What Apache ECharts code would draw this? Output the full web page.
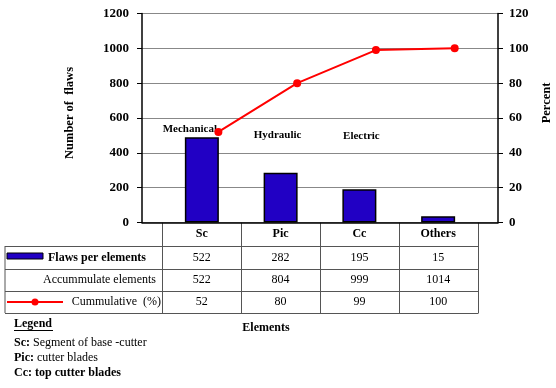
<!DOCTYPE html>
<html>
<head>
<meta charset="utf-8">
<script src="https://cdn.jsdelivr.net/npm/echarts@6/dist/echarts.min.js"></script>
<style>
  html, body { margin: 0; padding: 0; background: #fff; }
  #main { width: 556px; height: 388px; }
</style>
</head>
<body>
<div id="main"></div>
<script>
// data
const categories = ["Sc", "Pic", "Cc", "Others"];
const barHeights = [490, 285, 191, 36];        // bar tops as drawn
const flawsPerElement = [522, 282, 195, 15];   // table row 1
const accumulated = [522, 804, 999, 1014];     // table row 2
const cumulativePct = [52, 80, 99, 100];       // table row 3 + line
const groups = ["Mechanical", "Hydraulic", "Electric"];
const leftTicks = [0, 200, 400, 600, 800, 1000, 1200];
const rightTicks = [0, 20, 40, 60, 80, 100, 120];

const FONT = "Liberation Serif";
const BLUE = "#2100c4";

var chart = echarts.init(document.getElementById("main"));

chart.setOption({
  animation: false,
  grid: { left: 142, right: 58, top: 13.5, bottom: 165.5 },
  xAxis: {
    type: "value",
    min: -0.76,
    max: 3.76,
    axisLine: { show: true, onZero: false, lineStyle: { color: "#000", width: 1.5 } },
    axisTick: { show: false },
    axisLabel: { show: false },
    splitLine: { show: false }
  },
  yAxis: [
    {
      type: "value",
      min: leftTicks[0],
      max: leftTicks[leftTicks.length - 1],
      interval: 200,
      axisLine: { show: true, onZero: false, lineStyle: { color: "#000", width: 1.5 } },
      axisTick: { show: true, inside: false, length: 5, lineStyle: { color: "#000" } },
      axisLabel: {
        margin: 13, fontFamily: FONT, fontWeight: "bold", fontSize: 13, color: "#000",
        formatter: v => String(v)
      },
      splitLine: { show: true, lineStyle: { color: "#888", width: 1 } }
    },
    {
      type: "value",
      min: rightTicks[0],
      max: rightTicks[rightTicks.length - 1],
      interval: 20,
      position: "right",
      axisLine: { show: true, onZero: false, lineStyle: { color: "#000", width: 1.5 } },
      axisTick: { show: true, inside: false, length: 5, lineStyle: { color: "#000" } },
      axisLabel: {
        margin: 11, fontFamily: FONT, fontWeight: "bold", fontSize: 13, color: "#000",
        formatter: v => String(v)
      },
      splitLine: { show: false }
    }
  ],
  series: [
    {
      type: "bar",
      yAxisIndex: 0,
      barWidth: 34,
      data: barHeights.map((v, i) => [i, v]),
      itemStyle: { color: BLUE, borderColor: "#000", borderWidth: 1.5 }
    },
    {
      type: "line",
      yAxisIndex: 1,
      data: cumulativePct.map((v, i) => [i + 0.21, v]),
      symbol: "circle",
      symbolSize: 8,
      lineStyle: { color: "#ff0000", width: 2 },
      itemStyle: { color: "#ff0000" },
      z: 5
    }
  ]
});

// table under the chart, aligned with the axis
function px(x) {
  return chart.convertToPixel({ xAxisIndex: 0 }, x);
}

var axisY = 222.5;
var rowY = [246, 269, 291, 313];
var tableLeft = 5;
var bounds = [];
for (var b = 0; b <= categories.length; b++) bounds.push(Math.round(px(b - 0.5)) + 0.5);
var tableRight = bounds[bounds.length - 1];
var lineStyle = { stroke: "#555", lineWidth: 1 };
var g = [];

bounds.forEach(function (x) {
  g.push({ type: "line", shape: { x1: x, y1: axisY, x2: x, y2: rowY[3] }, style: lineStyle });
});
g.push({ type: "line", shape: { x1: tableLeft, y1: rowY[0], x2: tableLeft, y2: rowY[3] }, style: lineStyle });
rowY.forEach(function (y) {
  g.push({ type: "line", shape: { x1: tableLeft, y1: y + 0.5, x2: tableRight, y2: y + 0.5 }, style: lineStyle });
});

function txt(text, x, y, opts) {
  return {
    type: "text",
    x: x, y: y,
    style: Object.assign({
      text: text,
      font: (opts && opts.bold ? "bold " : "") + "12px '" + FONT + "'",
      fill: "#000",
      align: "center",
      verticalAlign: "middle"
    }, opts && opts.style)
  };
}

var rows = [flawsPerElement, accumulated, cumulativePct];
categories.forEach(function (c, i) {
  var cx = px(i);
  g.push(txt(c, cx, (axisY + rowY[0]) / 2, { bold: true }));
  rows.forEach(function (r, k) {
    g.push(txt(String(r[i]), cx, (rowY[k] + rowY[k + 1]) / 2));
  });
});

// row headers
g.push({ type: "rect", shape: { x: 7, y: 253, width: 36, height: 6 }, style: { fill: BLUE, stroke: "#000", lineWidth: 1 } });
g.push(txt("Flaws per elements", 146, (rowY[0] + rowY[1]) / 2, { bold: true, style: { align: "right" } }));
g.push(txt("Accummulate elements", 156, (rowY[1] + rowY[2]) / 2, { style: { align: "right" } }));
g.push({ type: "line", shape: { x1: 7, y1: 302, x2: 63, y2: 302 }, style: { stroke: "#ff0000", lineWidth: 2 } });
g.push({ type: "circle", shape: { cx: 35, cy: 302, r: 3.5 }, style: { fill: "#ff0000" } });
g.push(txt("Cummulative  (%)", 161, (rowY[2] + rowY[3]) / 2, { style: { align: "right" } }));

// group labels over the bars
var groupShift = [-12, -3, 2];
var groupY = [129, 135, 136];
groups.forEach(function (name, i) {
  g.push(txt(name, px(i) + groupShift[i], groupY[i], { style: { font: "bold 11px '" + FONT + "'" } }));
});

// axis titles
g.push({
  type: "text", x: 70, y: 113, rotation: Math.PI / 2,
  style: { text: "Number of  flaws", font: "bold 12.5px '" + FONT + "'", fill: "#000", align: "center", verticalAlign: "middle" }
});
g.push({
  type: "text", x: 547, y: 103, rotation: Math.PI / 2,
  style: { text: "Percent", font: "bold 12.5px '" + FONT + "'", fill: "#000", align: "center", verticalAlign: "middle" }
});
g.push(txt("Elements", 266, 328, { bold: true }));

// legend notes
g.push(txt("Legend", 14, 324, { bold: true, style: { align: "left" } }));
g.push({ type: "line", shape: { x1: 14, y1: 330.5, x2: 53, y2: 330.5 }, style: { stroke: "#000", lineWidth: 1 } });
g.push({
  type: "text", x: 14, y: 343,
  style: {
    text: "{b|Sc:} Segment of base -cutter",
    rich: { b: { fontWeight: "bold", fontFamily: FONT, fontSize: 12 } },
    fontFamily: FONT, fontSize: 12, fill: "#000", verticalAlign: "middle"
  }
});
g.push({
  type: "text", x: 14, y: 358,
  style: {
    text: "{b|Pic:} cutter blades",
    rich: { b: { fontWeight: "bold", fontFamily: FONT, fontSize: 12 } },
    fontFamily: FONT, fontSize: 12, fill: "#000", verticalAlign: "middle"
  }
});
g.push(txt("Cc: top cutter blades", 14, 373, { bold: true, style: { align: "left" } }));

chart.setOption({ graphic: g });
</script>
</body>
</html>
